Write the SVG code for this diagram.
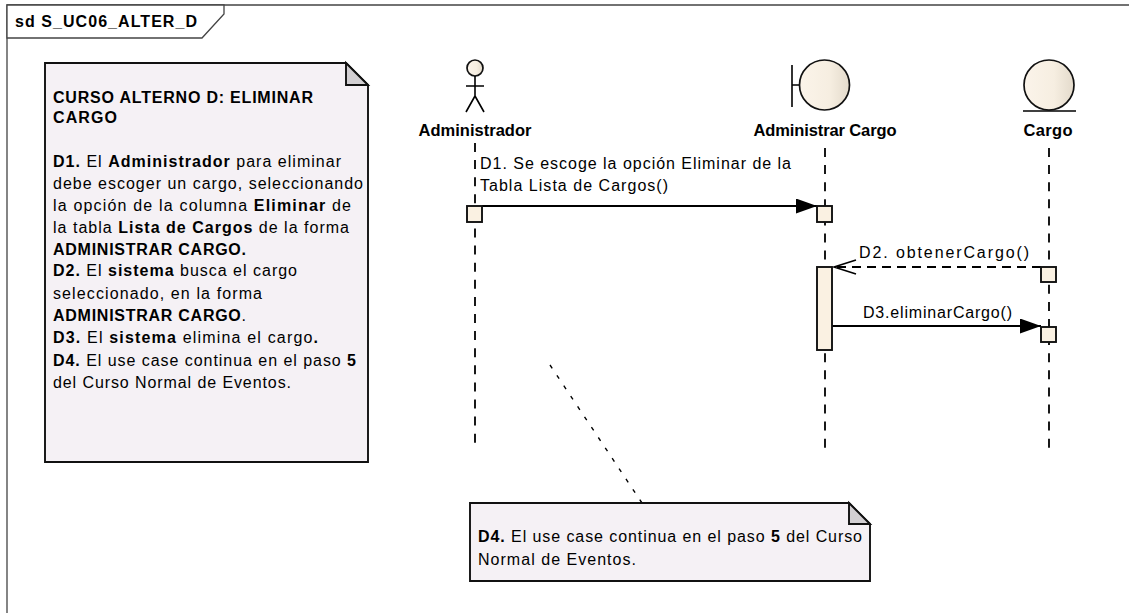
<svg xmlns="http://www.w3.org/2000/svg" width="1129" height="613" viewBox="0 0 1129 613">
<style>
text{font-family:"Liberation Sans",Arial,sans-serif;font-size:16px;fill:#000}
.b,tspan.b{font-weight:bold}
.name{font-weight:bold;font-size:16.500px;text-anchor:middle}
.frame{fill:#fff;stroke:#444;stroke-width:1.3}
.note{fill:#f5f1f5;stroke:#111;stroke-width:1.9}
.fold{fill:#d2cfd2;stroke:#111;stroke-width:1.9}
.shape{stroke:#111;stroke-width:1.7;fill:url(#g)}
.ln{stroke:#000;stroke-width:1.6;fill:none}
.life{stroke:#000;stroke-width:1.8;stroke-dasharray:9 8.100;fill:none}
.act{fill:#faf1e2;stroke:#111;stroke-width:1.9}
.msg{stroke:#000;stroke-width:1.9;fill:none}
</style>
<defs>
<linearGradient id="g" x1="0" x2="1" y1="0" y2="0"><stop offset="0" stop-color="#fbf4ea"/><stop offset="0.6" stop-color="#f6eee1"/><stop offset="1" stop-color="#e3dacb"/></linearGradient>
<marker id="fill" markerUnits="userSpaceOnUse" markerWidth="22" markerHeight="16" refX="21" refY="7.500" orient="auto"><path d="M0 0L21 7.500L0 15Z" fill="#000"/></marker>
<marker id="open" markerUnits="userSpaceOnUse" markerWidth="24" markerHeight="18" refX="23" refY="8" orient="auto"><path d="M1 1L23 8L1 15" fill="none" stroke="#000" stroke-width="1.7"/></marker>
</defs>
<rect width="1129" height="613" fill="#fff"/>
<g id="frame">
<path class="frame" fill="none" d="M7 613V5H1129"/>
<path class="frame" d="M7 5H224V14L202 38H7Z"/>
<text x="15" y="27" textLength="182" lengthAdjust="spacing" class="b">sd S_UC06_ALTER_D</text>
</g>
<g id="connectors">
<path class="life" d="M475 143V443.700"/>
<path class="life" d="M825 148V449"/>
<path class="life" d="M1049 148V449"/>
<path d="M550 365L642 503" stroke="#000" stroke-width="1.4" stroke-dasharray="4 8.450" fill="none"/>
<path class="msg" marker-end="url(#fill)" d="M482 206H817"/>
<path class="msg" stroke-dasharray="9 6" marker-end="url(#open)" d="M1041 267H834"/>
<path class="msg" marker-end="url(#fill)" d="M832 326H1041"/>
<text x="480" y="169" textLength="311" lengthAdjust="spacing">D1. Se escoge la opción Eliminar de la</text>
<text x="480" y="191" textLength="188" lengthAdjust="spacing">Tabla Lista de Cargos()</text>
<text x="859" y="258" textLength="170" lengthAdjust="spacing">D2. obtenerCargo()</text>
<text x="863" y="318" textLength="149" lengthAdjust="spacing">D3.eliminarCargo()</text>
</g>
<g id="note-curso">
<path class="note" d="M45 63H346L368 85V462H45Z"/>
<path class="fold" d="M346 63L368 85H346Z"/>
<text x="53" y="103" class="b" textLength="260" lengthAdjust="spacing">CURSO ALTERNO D: ELIMINAR</text>
<text x="53" y="123" class="b" textLength="64" lengthAdjust="spacing">CARGO</text>
<text x="53" y="167" textLength="288" lengthAdjust="spacing"><tspan class="b">D1.</tspan> El <tspan class="b">Administrador</tspan> para eliminar</text>
<text x="53" y="189" textLength="310" lengthAdjust="spacing">debe escoger un cargo, seleccionando</text>
<text x="53" y="211" textLength="298" lengthAdjust="spacing">la opción de la columna <tspan class="b">Eliminar</tspan> de</text>
<text x="53" y="233" textLength="296" lengthAdjust="spacing">la tabla <tspan class="b">Lista de Cargos</tspan> de la forma</text>
<text x="53" y="255" class="b" textLength="193" lengthAdjust="spacing">ADMINISTRAR CARGO.</text>
<text x="53" y="276" textLength="244" lengthAdjust="spacing"><tspan class="b">D2.</tspan> El <tspan class="b">sistema</tspan> busca el cargo</text>
<text x="53" y="299" textLength="209" lengthAdjust="spacing">seleccionado, en la forma</text>
<text x="53" y="321" textLength="193" lengthAdjust="spacing"><tspan class="b">ADMINISTRAR CARGO</tspan>.</text>
<text x="53" y="343" textLength="265" lengthAdjust="spacing"><tspan class="b">D3.</tspan> El <tspan class="b">sistema</tspan> elimina el cargo<tspan class="b">.</tspan></text>
<text x="53" y="366" textLength="303" lengthAdjust="spacing"><tspan class="b">D4.</tspan> El use case continua en el paso <tspan class="b">5</tspan></text>
<text x="53" y="388" textLength="238" lengthAdjust="spacing">del Curso Normal de Eventos.</text>
</g>
<g id="note-d4">
<path class="note" d="M470 503H849L870 524V581H470Z"/>
<path class="fold" d="M849 503L870 524H849Z"/>
<text x="478" y="542" textLength="384" lengthAdjust="spacing"><tspan class="b">D4.</tspan> El use case continua en el paso <tspan class="b">5</tspan> del Curso</text>
<text x="478" y="565" textLength="158" lengthAdjust="spacing">Normal de Eventos.</text>
</g>
<g id="administrador">
<circle class="shape" cx="475" cy="68" r="8"/>
<path class="ln" d="M475 76V96M466 86H484M466 112L475 96L484 112"/>
<text class="name" x="475" y="136" textLength="113" lengthAdjust="spacing">Administrador</text>
<rect class="act" x="467" y="206" width="15" height="16"/>
</g>
<g id="administrar-cargo">
<path class="ln" d="M792 65V107M792 85H799"/>
<circle class="shape" cx="824.500" cy="85" r="25"/>
<text class="name" x="825" y="136" textLength="143" lengthAdjust="spacing">Administrar Cargo</text>
<rect class="act" x="817" y="206" width="15" height="16"/>
<rect class="act" x="817" y="267" width="15" height="83"/>
</g>
<g id="cargo">
<circle class="shape" cx="1049" cy="85" r="25"/>
<path class="ln" d="M1023 111H1076"/>
<text class="name" x="1048" y="136" textLength="49" lengthAdjust="spacing">Cargo</text>
<rect class="act" x="1041" y="267" width="15" height="15"/>
<rect class="act" x="1041" y="327" width="15" height="15"/>
</g>
</svg>
